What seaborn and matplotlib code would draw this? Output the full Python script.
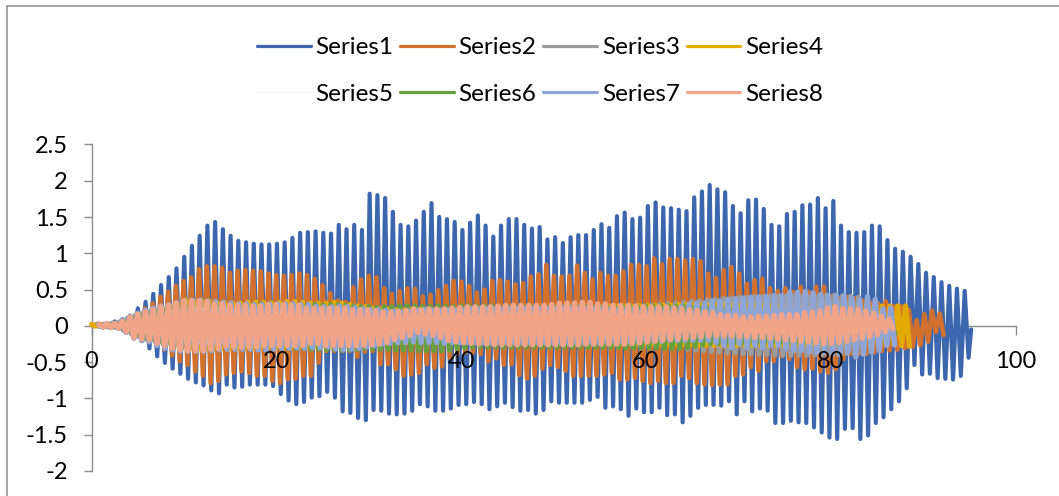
import numpy as np
import pandas as pd
import seaborn as sns
import matplotlib
matplotlib.use("Agg")
import matplotlib.pyplot as plt
from matplotlib.lines import Line2D

# ---------- values (outer edge of each stroke) ----------
s1_tops = [.03,.04,.06,.09,.12,.17,
 .27,.36,.47,.59,.70,.82,.98,1.13,1.27,1.41,1.46,1.36,1.27,1.20,1.18,1.16,1.15,1.15,1.16,1.18,1.24,1.31,1.32,1.33,1.31,1.30,1.42,1.36,1.42,1.35,1.85,1.83,1.79,
 1.60,1.42,1.40,1.48,1.60,1.72,1.53,1.50,1.46,1.35,1.45,1.55,1.41,1.26,1.41,1.50,1.50,1.42,1.37,1.39,1.22,1.25,1.17,1.25,1.28,1.28,1.35,1.43,1.38,1.54,1.59,1.50,1.52,1.68,1.73,1.66,1.65,1.63,1.61,1.80,1.88,1.97,
 1.91,1.87,1.68,1.58,1.76,1.77,1.64,1.42,1.40,1.57,1.60,1.69,1.70,1.79,1.65,1.75,1.41,1.32,1.31,1.32,1.41,1.40,1.21,1.09,1.05,.98,.88,.76,.70,.63,.58,.54,.51]
s1_bots = [.01,-.01,-.03,-.05,-.09,-.15,
 -.24,-.34,-.45,-.54,-.62,-.69,-.76,-.81,-.85,-.92,-.96,-.84,-.88,-.87,-.84,-.84,-.84,-.86,-.97,-1.06,-1.11,-1.08,-1.02,-1.0,-.94,-1.02,-1.21,-1.23,-1.30,-1.33,-1.19,-1.20,-1.24,
 -1.25,-1.24,-1.20,-1.11,-1.14,-1.20,-1.20,-1.17,-1.12,-1.11,-1.08,-1.11,-1.18,-1.14,-1.09,-1.15,-1.20,-1.19,-1.24,-1.19,-1.07,-1.09,-1.09,-1.09,-1.09,-1.05,-1.01,-1.16,-1.14,-1.18,-1.27,-1.17,-1.22,-1.22,-1.16,-1.26,-1.25,-1.36,-1.27,-1.16,-1.12,
 -1.12,-1.13,-1.07,-1.25,-1.07,-1.21,-1.17,-1.20,-1.37,-1.37,-1.34,-1.36,-1.37,-1.43,-1.50,-1.57,-1.59,-1.45,-1.44,-1.59,-1.54,-1.37,-1.29,-1.18,-1.07,-.89,-.57,-.70,-.69,-.75,-.76,-.77,-.72,-.47]
s1_end = -0.05

s2_tops = [.06,.06,.06,.07,.09,.14,.20,.27,
 .34,.43,.50,.58,.65,.70,.81,.85,.85,.83,.76,.79,.80,.79,.78,.75,.73,.72,.73,.75,.73,.68,.59,.48,.38,.36,.56,.67,.72,.70,.55,
 .47,.51,.55,.54,.44,.46,.52,.58,.65,.64,.58,.49,.53,.65,.66,.64,.60,.62,.71,.74,.87,.72,.71,.72,.86,.76,.67,.76,.72,.72,.78,.87,.87,.85,.96,.88,.95,.95,.93,.95,.92,
 .75,.69,.80,.84,.75,.61,.66,.68,.55,.51,.55,.50,.57,.50,.57,.57,.44,.41,.43,.41,.38,.35,.34,.37,.30,.30,.25,.11,.19,.24,.20]
s2_bots = [.02,.02,.01,.00,-.02,-.06,-.12,-.20,
 -.29,-.36,-.44,-.52,-.57,-.66,-.72,-.82,-.79,-.70,-.68,-.66,-.68,-.72,-.72,-.79,-.82,-.77,-.76,-.72,-.72,-.54,-.38,-.38,-.38,-.38,-.46,-.39,-.38,-.56,
 -.56,-.63,-.72,-.70,-.68,-.56,-.61,-.59,-.47,-.42,-.40,-.40,-.42,-.52,-.48,-.57,-.56,-.71,-.76,-.72,-.62,-.57,-.60,-.65,-.72,-.72,-.72,-.72,-.70,-.68,-.77,-.77,-.75,-.79,-.82,-.79,-.82,-.82,-.72,-.75,-.82,-.84,-.85,
 -.84,-.84,-.72,-.70,-.60,-.65,-.52,-.52,-.45,-.49,-.60,-.63,-.62,-.66,-.68,-.63,-.49,-.42,-.42,-.42,-.40,-.38,-.37,-.36,-.34,-.32,-.30,-.25,-.12,-.16,-.17,-.19]

s3_tops = [.03,.04,.06,.09,.14,.18,.22,.25,.28,.30,.32,.33,.33,.32,.32,.31,.31,.31,.31,.31,.32,.32,.31,.31,.31,.30,.30,.30,.29,.29,.28,.28,.27,.27,
 .26,.26,.25,.25,.25,.25,.26,.26,.26,.26,.25,.25,.25,.26,.26,.26,.26,.27,.27,.27,.27,.27,.27,.28,.28,.28,.28,.28,.29,.29,.29,.29,.30,.30,
 .31,.31,.32,.33,.34,.35,.36,.37,.38,.39,.40,.41,.42,.43,.43,.44,.44,.45,.45,.45,.45,.44,.44,.45,.46,.46,.45,.44,.43]
s3_bots = [-.02,-.03,-.05,-.10,-.15,-.19,-.23,-.26,-.29,-.31,-.33,-.34,-.34,-.33,-.33,-.32,-.32,-.32,-.32,-.32,-.32,-.31,-.31,-.31,-.30,-.30,-.30,-.30,-.29,-.29,-.29,-.28,-.28,-.28,
 -.27,-.26,-.26,-.25,-.25,-.25,-.25,-.25,-.26,-.26,-.26,-.26,-.27,-.27,-.27,-.27,-.27,-.27,-.28,-.28,-.28,-.28,-.28,-.28,-.28,-.29,-.29,-.29,-.29,-.29,-.29,-.30,-.30,-.30,
 -.31,-.32,-.32,-.33,-.34,-.35,-.36,-.37,-.38,-.39,-.40,-.41,-.41,-.42,-.42,-.43,-.43,-.44,-.44,-.44,-.44,-.44,-.44,-.43,-.43,-.43,-.42,-.41,-.40]

s4_tops = [.04,.03,.04,.05,.08,.12,.16,.20,.24,.28,.31,.34,.39,.38,.39,.38,.36,.36,.35,.35,.36,.36,.36,.35,.36,.37,.37,.36,.35,.35,.35,.36,.35,.33,
 .31,.30,.28,.27,.27,.26,.26,.27,.27,.27,.27,.27,.28,.28,.28,.28,.28,.28,.28,.29,.29,.29,.29,.29,.29,.30,.30,.30,.30,.30,.30,.30,.31,.31,
 .31,.31,.32,.32,.32,.32,.32,.33,.33,.33,.33,.33,.33,.33,.33,.33,.33,.33,.33,.33,.33,.33,.33,.33,.33,.33,.32,.32,.32,.32,.32,.32,.31,.31,.31,.31,.31,.34,.34]
s4_bots = [-.01,-.02,-.03,-.05,-.09,-.14,-.19,-.23,-.27,-.30,-.33,-.35,-.37,-.38,-.37,-.37,-.36,-.36,-.35,-.35,-.35,-.35,-.34,-.34,-.34,-.34,-.33,-.33,-.32,-.32,-.32,-.31,-.31,-.30,
 -.30,-.29,-.28,-.27,-.27,-.27,-.27,-.27,-.27,-.27,-.27,-.27,-.27,-.27,-.27,-.27,-.27,-.27,-.28,-.28,-.28,-.28,-.28,-.28,-.28,-.28,-.28,-.28,-.28,-.28,-.28,-.28,-.29,-.29,
 -.29,-.29,-.29,-.29,-.30,-.30,-.30,-.30,-.30,-.31,-.31,-.31,-.31,-.31,-.31,-.31,-.31,-.31,-.31,-.31,-.31,-.31,-.31,-.31,-.31,-.31,-.31,-.31,-.31,-.31,-.30,-.30,-.30,-.30,-.29,-.31,-.32]

s5_tops = [.02,.03,.04,.07,.11,.15,.18,.20,.22,.24,.25,.26,.26,.26,.25,.25,.25,.24,.24,.24,.24,.24,.24,.24,.24,.23,.23,.23,.22,.22,.22,.21,.21,.20,
 .20,.20,.20,.20,.20,.20,.20,.20,.21,.21,.21,.21,.21,.21,.22,.22,.22,.22,.22,.22,.22,.23,.23,.23,.23,.23,.23,.23,.23,.23,.23,.23,.23,.23,
 .23,.22,.22,.22,.22,.22,.21,.21,.21,.21,.20,.20,.20,.19,.19,.19,.19,.18,.18,.18,.18,.18,.17,.17,.17,.17]
s5_bots = [-.02,-.03,-.05,-.09,-.14,-.17,-.19,-.21,-.23,-.25,-.26,-.26,-.26,-.26,-.26,-.26,-.25,-.25,-.25,-.25,-.25,-.25,-.24,-.24,-.24,-.24,-.24,-.23,-.23,-.22,-.22,-.22,-.22,-.21,
 -.21,-.20,-.19,-.18,-.18,-.17,-.17,-.18,-.18,-.19,-.19,-.20,-.20,-.20,-.21,-.21,-.21,-.21,-.22,-.22,-.22,-.22,-.22,-.22,-.22,-.22,-.22,-.22,-.22,-.22,-.22,-.22,-.22,-.22,
 -.21,-.21,-.20,-.20,-.19,-.19,-.18,-.18,-.17,-.17,-.16,-.16,-.16,-.16,-.16,-.17,-.17,-.18,-.18,-.18,-.19,-.19,-.19,-.19,-.19,-.19]

s6_tops = [.03,.05,.06,.10,.16,.20,.23,.26,.29,.31,.33,.33,.32,.32,.31,.32,.32,.32,.33,.33,.33,.34,.34,.34,.33,.33,.33,.33,.33,.32,.33,.33,.32,.31,
 .30,.30,.29,.30,.30,.31,.31,.31,.30,.30,.31,.30,.30,.31,.31,.31,.31,.31,.30,.31,.31,.31,.31,.30,.30,.31,.31,.31,.31,.31,.31,.31,.30,.30,
 .31,.31,.30,.31,.31,.31,.31,.30,.30,.29,.29,.28,.28,.27,.27,.26,.26,.26,.25,.25,.24,.24,.24,.24,.23,.23,.23,.22,.22,.22,.21,.21,.20,.20,.19,.18]
s6_bots = [-.03,-.04,-.06,-.12,-.19,-.23,-.24,-.28,-.31,-.34,-.34,-.34,-.33,-.33,-.34,-.34,-.34,-.34,-.33,-.33,-.34,-.34,-.34,-.34,-.35,-.35,-.35,-.36,-.36,-.36,-.36,-.37,-.37,-.36,
 -.35,-.35,-.36,-.36,-.37,-.37,-.37,-.38,-.38,-.38,-.38,-.37,-.35,-.34,-.33,-.33,-.33,-.33,-.33,-.33,-.33,-.33,-.33,-.33,-.33,-.33,-.33,-.33,-.33,-.33,-.33,-.33,-.33,-.33,
 -.34,-.34,-.34,-.34,-.34,-.35,-.35,-.35,-.34,-.32,-.30,-.28,-.28,-.28,-.28,-.28,-.28,-.28,-.28,-.28,-.28,-.28,-.28,-.28,-.28,-.28,-.28,-.27,-.26,-.25,-.24,-.23,-.22,-.20,-.18,-.15]

s7_tops = [.03,.05,.07,.11,.17,.21,.25,.28,.31,.33,.36,.38,.39,.39,.38,.37,.36,.35,.34,.34,.33,.33,.34,.34,.34,.34,.33,.33,.31,.30,.30,.31,.30,.29,
 .27,.26,.26,.25,.24,.23,.24,.25,.26,.25,.25,.26,.25,.26,.27,.27,.27,.27,.27,.28,.28,.28,.28,.28,.28,.28,.29,.29,.29,.29,.29,.29,.28,.28,
 .27,.27,.27,.27,.28,.28,.29,.30,.33,
 .35,.35,.38,.38,.40,.41,.42,.43,.43,.44,.45,.45,.50,.50,.51,.49,.47,.45,.45,.45,.42,.40,.44,.40,.27,.28]
s7_bots = [-.04,-.05,-.07,-.13,-.21,-.24,-.26,-.31,-.35,-.37,-.39,-.39,-.39,-.39,-.38,-.37,-.36,-.36,-.36,-.36,-.37,-.37,-.36,-.35,-.35,-.34,-.35,-.34,-.34,-.33,-.36,-.37,-.36,-.35,
 -.33,-.31,-.29,-.28,-.27,-.27,-.26,-.27,-.27,-.27,-.28,-.27,-.27,-.27,-.27,-.27,-.27,-.27,-.27,-.27,-.27,-.27,-.27,-.27,-.27,-.27,-.27,-.27,-.27,-.27,-.27,-.27,-.27,-.27,
 -.27,-.26,-.25,-.25,-.25,-.24,-.24,-.24,-.24,
 -.24,-.24,-.27,-.31,-.34,-.29,-.34,-.31,-.34,-.31,-.31,-.36,-.38,-.38,-.40,-.40,-.40,-.43,-.43,-.40,-.47,-.43,-.40,-.38,-.31,-.30]

s8_tops = [.03,.05,.06,.10,.16,.20,.23,.26,.30,.32,.35,.38,.38,.38,.37,.34,.34,.32,.32,.32,.31,.31,.33,.33,.33,.32,.32,.28,.28,.28,.28,.28,.28,.26,
 .26,.26,.25,.23,.23,.24,.25,.27,.26,.27,.27,.27,.28,.29,.30,.30,.30,.30,.31,.32,.32,.32,.32,.32,.32,.33,.35,.35,.35,.36,.36,.34,.34,.32,
 .32,.32,.31,.30,.30,.30,.30,.28,.27,.26,.25,.23,.22,.19,.18,.18,.16,.16,.17,.17,.18,.19,.19,.19,.22,.23,.24,.28,.30,.27,.27,.26,.24,.21,.17,.13]
s8_bots = [-.03,-.04,-.06,-.12,-.20,-.22,-.23,-.28,-.31,-.35,-.37,-.38,-.38,-.38,-.36,-.35,-.32,-.33,-.33,-.33,-.33,-.31,-.31,-.31,-.31,-.31,-.31,-.28,-.28,-.31,-.31,-.31,-.31,-.31,
 -.31,-.30,-.29,-.27,-.23,-.20,-.17,-.13,-.15,-.17,-.20,-.24,-.26,-.27,-.28,-.29,-.29,-.30,-.30,-.30,-.30,-.30,-.30,-.30,-.30,-.30,-.30,-.30,-.30,-.29,-.29,-.29,-.29,-.29,
 -.29,-.28,-.27,-.26,-.25,-.24,-.23,-.22,-.21,-.20,-.19,-.18,-.18,-.18,-.18,-.19,-.19,-.20,-.20,-.21,-.22,-.23,-.24,-.25,-.26,-.27,-.28,-.28,-.27,-.25,-.23,-.21,-.19,-.16,-.12,-.08]

series_names = ["Series1","Series2","Series3","Series4","Series5","Series6","Series7","Series8"]
series_tops = [s1_tops,s2_tops,s3_tops,s4_tops,s5_tops,s6_tops,s7_tops,s8_tops]
series_bots = [s1_bots,s2_bots,s3_bots,s4_bots,s5_bots,s6_bots,s7_bots,s8_bots]
# time of the first and of the last crest of each series
crest_span = [(0.0,94.5),(-0.05,91.8),(0.45,83.0),(0.0,88.1),(0.85,80.0),(0.95,86.5),(0.8,86.5),(0.87,86.3)]
palette = ["#3C66AE","#D2702E","#9B9B9B","#E3AA05","#F8F8F8","#66A03F","#8EA5D6","#F1A488"]
x_ticks = [0,20,40,60,80,100]
y_ticks = [-2,-1.5,-1,-.5,0,.5,1,1.5,2,2.5]
y_labels = ["-2","-1.5","-1","-0.5","0","0.5","1","1.5","2","2.5"]

# ---------- long table ----------
W,H = 1059,496
LWS = [3.0,3.3,3.7,3.7,3.7,3.7,3.9,4.0]   # pt, per series

def inner(v,lw):
    edge=(lw/72*100/2)/72.5     # half a stroke, in data units
    v = np.asarray(v,float)
    return v - np.sign(v)*np.minimum(edge,np.abs(v)*.5)

rows=[]
for name,t,b,(x0,x1),lw in zip(series_names,series_tops,series_bots,crest_span,LWS):
    n=min(len(t),len(b))
    t_,b_=inner(t[:n],lw),inner(b[:n],lw)
    step=(x1-x0)/(n-1)
    for i in range(n):
        rows.append((name,2*i,x0+i*step,t_[i]))
        rows.append((name,2*i+1,x0+(i+.5)*step,b_[i]))
    if name=="Series1":
        rows.append((name,2*n,95.2,s1_end))
df=pd.DataFrame(rows,columns=["series","order","x","y"])
df=df[df.x>=0]

sns.set_theme(style="white")
plt.rcParams["font.family"]=["Lato","DejaVu Sans"]
fig=plt.figure(figsize=(W/100,H/100),dpi=100,facecolor="white")
L,R,T,B=91.5/W,1015.5/W,144.5/H,470.8/H
pos=[L,1-B,R-L,B-T]
ax=fig.add_axes(pos)
sns.lineplot(data=df,x="x",y="y",hue="series",hue_order=series_names,palette=palette,
             sort=False,estimator=None,units=None,lw=3.6,ax=ax,legend=False,
             solid_joinstyle="round",solid_capstyle="round")
for ln,lw in zip(ax.lines,LWS):
    ln.set_linewidth(lw); ln.set_clip_on(False)
ax.set_xlim(0,100); ax.set_ylim(-2,2.5)
ax.set_xlabel(""); ax.set_ylabel("")
GR="#8C8C8C"
for s in ["top","right"]: ax.spines[s].set_visible(False)
ax.spines["bottom"].set_position(("data",0))
for s in ["bottom","left"]:
    ax.spines[s].set_color(GR); ax.spines[s].set_linewidth(1.0); ax.spines[s].set_zorder(1)
ax.set_xticks(x_ticks); ax.set_yticks(y_ticks); ax.set_yticklabels(y_labels)
ax.tick_params(axis="x",length=6.2,width=1,color=GR,labelbottom=False,bottom=True)
ax.tick_params(axis="y",length=6,width=1,color=GR,labelsize=17,labelcolor="black",pad=11,left=True)

# numbers of the horizontal axis sit above the lines
ov=fig.add_axes(pos,sharex=ax,sharey=ax,facecolor="none")
for s in ov.spines.values(): s.set_visible(False)
ov.spines["bottom"].set_position(("data",0))
ov.set_xticks(x_ticks); ov.set_xticklabels([str(v) for v in x_ticks])
ov.tick_params(axis="x",length=0,labelsize=17,labelcolor="black",pad=18)
ov.tick_params(axis="y",left=False,labelleft=False)
ov.set_xlabel(""); ov.set_ylabel("")

# legend reads row by row; matplotlib fills column by column
order=[0,4,1,5,2,6,3,7]
handles=[Line2D([],[],color=palette[i],lw=2.3,solid_capstyle="round") for i in order]
fig.legend(handles,[series_names[i] for i in order],ncol=4,loc="center",bbox_to_anchor=(540/W,1-71/H),frameon=False,
           fontsize=17.5,handlelength=2.2,handletextpad=.2,columnspacing=.28,labelspacing=1.05,labelcolor="black")

# outer frame of the chart, cut by the picture edge
fig.add_artist(Line2D([7.3/W,7.3/W],[0,1-6/H],color=GR,lw=1.1))
fig.add_artist(Line2D([7.3/W,1],[1-6/H,1-6/H],color=GR,lw=1.1))
fig.savefig("out.png",dpi=100,facecolor="white")
